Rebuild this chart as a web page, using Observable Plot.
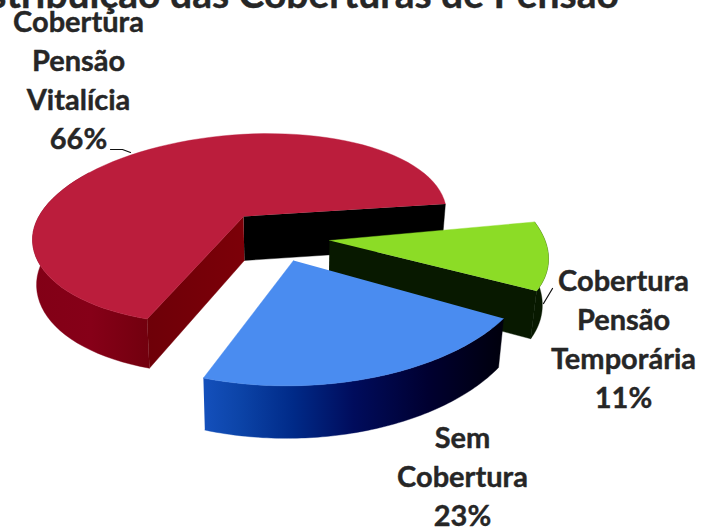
<!DOCTYPE html>
<html><head><meta charset="utf-8">
<style>html,body{margin:0;padding:0;background:#fff}svg{display:block}</style>
<script src="https://cdn.jsdelivr.net/npm/d3@7"></script>
<script src="https://cdn.jsdelivr.net/npm/@observablehq/plot@0.6"></script>
</head><body>
<svg width="0" height="0" style="position:absolute">
<defs>
<linearGradient id="blueWall"><stop offset="0" stop-color="#1450bc"/><stop offset=".12" stop-color="#0c44a8"/><stop offset=".3" stop-color="#002a88"/><stop offset=".5" stop-color="#000c5c"/><stop offset=".75" stop-color="#000030"/><stop offset="1" stop-color="#00000c"/></linearGradient>
<linearGradient id="redWall"><stop offset="0" stop-color="#820016"/><stop offset=".5" stop-color="#860018"/><stop offset="1" stop-color="#72000e"/></linearGradient>
<linearGradient id="redCut"><stop offset="0" stop-color="#6e0008"/><stop offset="1" stop-color="#7c0008"/></linearGradient>
</defs></svg>
<script>
const categories = ["Cobertura Pensão Vitalícia", "Cobertura Pensão Temporária", "Sem Cobertura"];
const shares = [66, 11, 23];
const titleText = "Distribuição das Coberturas de Pensão";
const labelLines = [["Cobertura","Pensão","Vitalícia","66%"],["Cobertura","Pensão","Temporária","11%"],["Sem","Cobertura","23%"]];

// layout of each exploded, tilted slice (screen-space frame of the pie)
const frames = [
  {apex:[243,216], c:[239,226], A:[207,-13], B:[0,92], Bnear:[0,97], start:116.5, top:"#bb1d3c", wall:"url(#redWall)"},
  {apex:[329,240], c:[329,240], A:[219,17], B:[3,102], start:-19.8, top:"#8cdc26", wall:"#081900"},
  {apex:[293,260], c:[293,260], A:[80,117], B:[227,-45], start:-41.4, top:"#4a8cf0", wall:"url(#blueWall)"}
];
const rad = Math.PI/180;
function arc(f, share){
  const span = share/100*360, n = 80, pts = [];
  for(let i=0;i<=n;i++){
    const t=(f.start+span*i/n)*rad, s=Math.sin(t), c=Math.cos(t);
    const B = (f.Bnear && s>0) ? f.Bnear : f.B;
    pts.push([f.c[0]+f.A[0]*c+B[0]*s, f.c[1]+f.A[1]*c+B[1]*s]);
  }
  return pts;
}
const down = ([x,y]) => [x+(x<300?0.015:0.025)*(300-x), y+44+0.05*(y-216)];
const poly = (pts, fill) => Plot.line(pts,{x:d=>d[0],y:d=>d[1],fill,stroke:fill,strokeWidth:0.4,curve:"linear"});
const edgeWall = (a,b,fill) => poly([a,b,down(b),down(a)],fill);

const marks = [];
const [red,green,blue] = frames.map((f,i)=>arc(f,shares[i]));

// title sits behind everything
marks.push(Plot.text([titleText],{x:()=>284,y:()=>-5,text:d=>d,fontSize:39,fontWeight:700,fontFamily:"Lato",fill:"#262626",stroke:"#262626",strokeWidth:0.4,textAnchor:"middle"}));

// red slice
marks.push(edgeWall(frames[0].apex, red[red.length-1], "#000"));
marks.push(edgeWall(frames[0].apex, red[0], "url(#redCut)"));
const leftArc = red.slice(0,Math.ceil(red.length*0.45));
marks.push(poly([...leftArc,...leftArc.map(down).reverse()],frames[0].wall));
marks.push(poly([frames[0].apex,...red],frames[0].top));

// green slice
marks.push(edgeWall(frames[1].apex, green[green.length-1], frames[1].wall));
marks.push(poly([...green,...green.map(down).reverse()],frames[1].wall));
marks.push(poly([frames[1].apex,...green],frames[1].top));

// blue slice
marks.push(poly([...blue,...blue.map(down).reverse()],frames[2].wall));
marks.push(poly([frames[2].apex,...blue],frames[2].top));

// leader lines
marks.push(Plot.line([[110,149],[122,149],[130,152]],{x:d=>d[0],y:d=>d[1],stroke:"#111",strokeWidth:1.2}));
marks.push(Plot.line([[543,303],[552,288]],{x:d=>d[0],y:d=>d[1],stroke:"#111",strokeWidth:1.2}));

// labels
const labelAnchors = [[78,22],[623,281],[462,438]];
labelLines.forEach((lines,i)=>{
  const rows = lines.map((t,j)=>({t,j}));
  marks.push(Plot.text(rows,{x:()=>labelAnchors[i][0],y:d=>labelAnchors[i][1]+d.j*39,text:"t",fontSize:29,fontWeight:700,fontFamily:"Lato",fill:"#262626",stroke:"#262626",strokeWidth:0.4,textAnchor:"middle"}));
});

const chart = Plot.plot({width:701,height:529,margin:0,
  x:{domain:[0,701],range:[0,701],axis:null},
  y:{domain:[0,529],range:[0,529],axis:null},
  marks});
chart.style.overflow="hidden";
document.body.appendChild(chart);
</script>
</body></html>
